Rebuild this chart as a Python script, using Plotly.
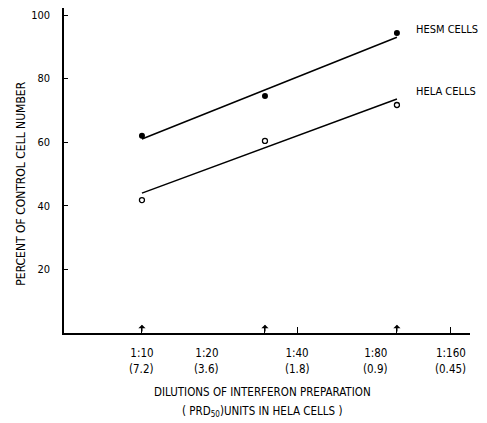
import plotly.graph_objects as go

# Data (x positions in axis units 0-100 along the dilution axis)
tick_pos = [19.2, 35.2, 57.4, 76.8, 95.3]
tick_dilution = ["1:10", "1:20", "1:40", "1:80", "1:160"]
tick_units = ["(7.2)", "(3.6)", "(1.8)", "(0.9)", "(0.45)"]
minor_tick_pos = [57.4, 95.3]

dose_x = [19.2, 49.5, 82.0]
hesm_pct = [62.0, 74.5, 94.3]
hela_pct = [41.8, 60.4, 71.7]

hesm_fit_x = [19.2, 82.0]
hesm_fit_y = [61.0, 93.0]
hela_fit_x = [19.2, 82.0]
hela_fit_y = [44.0, 73.6]

y_ticks = [20, 40, 60, 80, 100]

FONT = "DejaVu Sans Condensed, Liberation Sans Narrow, sans-serif"

fig = go.Figure()
fig.add_trace(go.Scatter(x=hesm_fit_x, y=hesm_fit_y, mode="lines",
                         line=dict(color="black", width=1.5), showlegend=False))
fig.add_trace(go.Scatter(x=hela_fit_x, y=hela_fit_y, mode="lines",
                         line=dict(color="black", width=1.5), showlegend=False))
fig.add_trace(go.Scatter(x=dose_x, y=hesm_pct, mode="markers",
                         marker=dict(color="black", size=6), showlegend=False))
fig.add_trace(go.Scatter(x=dose_x, y=hela_pct, mode="markers",
                         marker=dict(color="white", size=5, line=dict(color="black", width=1.3)),
                         showlegend=False))

# dummy trace on secondary x axis to show small ticks (plain ticks + dose arrow stems)
fig.add_trace(go.Scatter(x=minor_tick_pos, y=[None, None], xaxis="x2", showlegend=False))

fig.update_layout(
    width=487, height=423,
    margin=dict(l=56, r=25, t=0, b=98),
    paper_bgcolor="white", plot_bgcolor="white",
    font=dict(family=FONT, size=11, color="black"),
    xaxis=dict(range=[0, 100], showgrid=False, zeroline=False, automargin=False,
               showline=True, linecolor="black", linewidth=1.5,
               tickvals=tick_pos, ticktext=tick_dilution,
               ticks="", ticklabelstandoff=8, tickfont=dict(size=11.5, family=FONT)),
    xaxis2=dict(range=[0, 100], overlaying="x", side="bottom", showgrid=False,
                zeroline=False, showline=False, tickvals=minor_tick_pos + dose_x,
                automargin=False,
                ticks="inside", ticklen=6, tickcolor="black", tickwidth=1.2,
                showticklabels=False),
    yaxis=dict(range=[0, 102.2], showgrid=False, zeroline=False, automargin=False,
               showline=True, linecolor="black", linewidth=1.5,
               tickvals=y_ticks, ticks="inside", ticklen=4, tickwidth=1.2,
               tickcolor="black", ticklabelstandoff=10,
               tickfont=dict(size=11, family=FONT)),
)

# second row of tick labels (units)
for xv, u in zip(tick_pos, tick_units):
    fig.add_annotation(x=xv, y=-0.111, xref="x", yref="paper", text=u,
                       showarrow=False, xanchor="center", yanchor="middle",
                       font=dict(size=11.5, family=FONT))

# arrowheads marking the doses tested
for xv in dose_x:
    fig.add_annotation(x=xv, y=2.6, ax=xv, ay=0, xref="x", yref="y",
                       axref="x", ayref="y",
                       showarrow=True, arrowhead=1, arrowsize=1, arrowwidth=1.2,
                       standoff=0, startstandoff=0,
                       arrowcolor="black", text="")

fig.add_annotation(x=86.2, y=95.3, xref="x", yref="y", text="HESM CELLS",
                   showarrow=False, xanchor="left", font=dict(size=11, family=FONT))
fig.add_annotation(x=86.2, y=75.8, xref="x", yref="y", text="HELA CELLS",
                   showarrow=False, xanchor="left", font=dict(size=11, family=FONT))

fig.add_annotation(x=-0.108, y=0.46, xref="paper", yref="paper", textangle=-90,
                   xanchor="center", yanchor="middle",
                   text="PERCENT OF CONTROL CELL NUMBER", showarrow=False,
                   font=dict(size=12, family=FONT))

fig.add_annotation(x=0.488, y=-0.182, xref="paper", yref="paper",
                   xanchor="center", yanchor="middle",
                   text="DILUTIONS OF INTERFERON PREPARATION", showarrow=False,
                   font=dict(size=11.5, family=FONT))
fig.add_annotation(x=0.488, y=-0.243, xref="paper", yref="paper",
                   xanchor="center", yanchor="middle",
                   text="( PRD<sub>50</sub>)UNITS IN HELA CELLS )", showarrow=False,
                   font=dict(size=11.5, family=FONT))

fig.write_html("out.html")
